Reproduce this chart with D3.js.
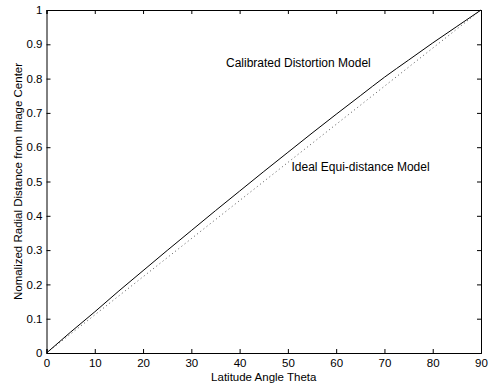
<!DOCTYPE html>
<html>
<head>
<meta charset="utf-8">
<script src="https://cdn.jsdelivr.net/npm/d3@7"></script>
<style>
  body { margin: 0; background: #fff; }
  svg { display: block; font-family: 'Liberation Sans', Arial, sans-serif; }
</style>
</head>
<body>
<svg id="chart"></svg>
<script>
// latitude angle (deg) and normalized radial distance
const theta = [0, 5, 10, 15, 20, 25, 30, 35, 40, 45, 50, 55, 60, 65, 70, 75, 80, 85, 90]
const calibrated = [0, 0.061, 0.120, 0.181, 0.240, 0.299, 0.357, 0.415, 0.472, 0.529, 0.585, 0.641, 0.696, 0.750, 0.804, 0.854, 0.904, 0.952, 1]
const idealTheta = [0, 90]
const ideal = [0, 1]
const xTicks = [0, 10, 20, 30, 40, 50, 60, 70, 80, 90]
const yTicks = [0, 0.1, 0.2, 0.3, 0.4, 0.5, 0.6, 0.7, 0.8, 0.9, 1]

const W = 489, H = 385
const margin = { top: 10, right: 8, bottom: 32, left: 46.5 }
const width = W - margin.left - margin.right
const height = H - margin.top - margin.bottom

const svg = d3.select('#chart').attr('width', W).attr('height', H)
const g = svg.append('g').attr('transform', `translate(${margin.left},${margin.top})`)

const x = d3.scaleLinear().domain([0, 90]).range([0, width])
const y = d3.scaleLinear().domain([0, 1]).range([height, 0])

const fmt = (d) => (d === 0 || d === 1 ? String(d) : d3.format('.1f')(d))

// bottom / left axes with inward ticks
const xAxis = g.append('g')
  .attr('transform', `translate(0,${height})`)
  .call(d3.axisBottom(x).tickValues(xTicks).tickSize(-4).tickPadding(6))
const yAxis = g.append('g')
  .call(d3.axisLeft(y).tickValues(yTicks).tickFormat(fmt).tickSize(-4).tickPadding(4))
// top / right axes, ticks only
const xTop = g.append('g')
  .call(d3.axisTop(x).tickValues(xTicks).tickSize(-4).tickFormat(''))
const yRight = g.append('g')
  .attr('transform', `translate(${width},0)`)
  .call(d3.axisRight(y).tickValues(yTicks).tickSize(-4).tickFormat(''))

;[xAxis, yAxis, xTop, yRight].forEach((a) => {
  a.selectAll('path').attr('stroke', '#000').attr('stroke-width', 1)
  a.selectAll('line').attr('stroke', '#000')
  a.selectAll('text').attr('fill', '#000').style('font-size', '11.5px')
})

// ideal equi-distance (dotted)
const idealData = idealTheta.map((t, i) => ({ t, v: ideal[i] }))
g.append('path')
  .datum(idealData)
  .attr('fill', 'none')
  .attr('stroke', '#555')
  .attr('stroke-width', 1)
  .attr('stroke-dasharray', '1,3')
  .attr('d', d3.line().x((d) => x(d.t)).y((d) => y(d.v)))

// calibrated distortion (solid)
const calData = theta.map((t, i) => ({ t, v: calibrated[i] }))
g.append('path')
  .datum(calData)
  .attr('fill', 'none')
  .attr('stroke', '#000')
  .attr('stroke-width', 1)
  .attr('d', d3.line().curve(d3.curveMonotoneX).x((d) => x(d.t)).y((d) => y(d.v)))

// annotations
svg.append('text').attr('x', 226).attr('y', 66.5)
  .style('font-size', '12px').text('Calibrated Distortion Model')
svg.append('text').attr('x', 291.5).attr('y', 170.5)
  .style('font-size', '12px').text('Ideal Equi-distance Model')

// axis labels
svg.append('text')
  .attr('x', margin.left + width / 2).attr('y', 381)
  .attr('text-anchor', 'middle').style('font-size', '11.5px')
  .text('Latitude Angle Theta')
svg.append('text')
  .attr('transform', `translate(21.5,${margin.top + height / 2}) rotate(-90)`)
  .attr('text-anchor', 'middle').style('font-size', '11.5px')
  .text('Nomalized Radial Distance from Image Center')
</script>
</body>
</html>
